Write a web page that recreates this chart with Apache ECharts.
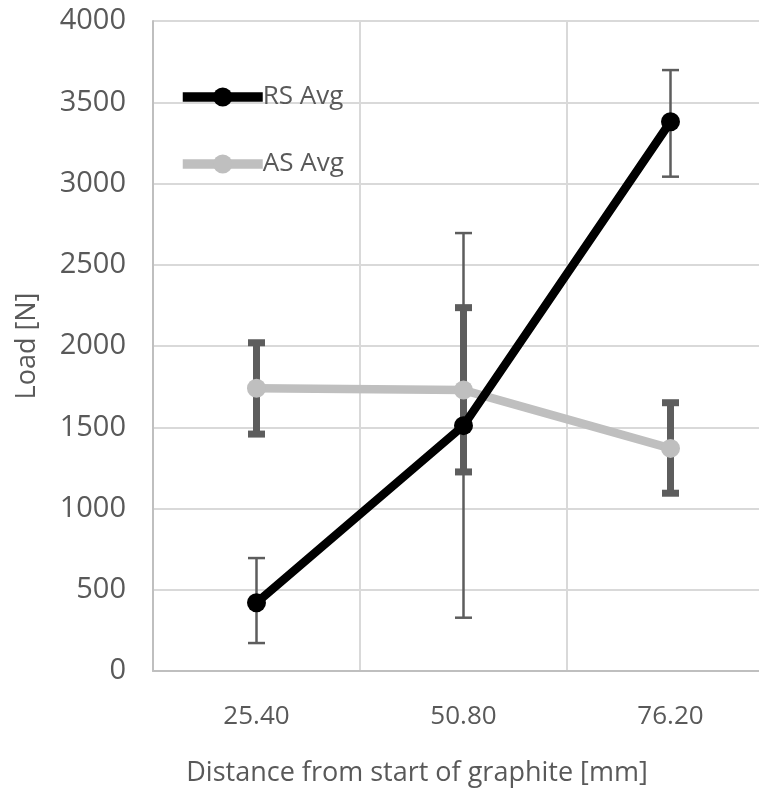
<!DOCTYPE html>
<html>
<head>
<meta charset="utf-8">
<script src="https://cdn.jsdelivr.net/npm/echarts@6/dist/echarts.min.js"></script>
<style>html,body{margin:0;padding:0;background:#fff;}#c{width:759px;height:788px;}</style>
</head>
<body>
<div id="c"></div>
<script>
const categories = ['25.40', '50.80', '76.20'];
const rsAvg  = [420, 1510, 3380];
const rsLow  = [172, 328, 3042];
const rsHigh = [695, 2695, 3698];
const asAvg  = [1740, 1729, 1370];
const asLow  = [1458, 1225, 1094];
const asHigh = [2020, 2236, 1651];
const yTicks = { min: 0, max: 4000, interval: 500 };

const FONT = 'Open Sans';
const TXT = '#595959';

function errData(lo, hi) { return lo.map((v, i) => [i, v, hi[i]]); }

function errRender(barW, capW) {
  return function (params, api) {
    const i = api.value(0);
    const lo = api.coord([i, api.value(1)]);
    const hi = api.coord([i, api.value(2)]);
    const x = lo[0];
    const st = { stroke: '#5d5d5d', lineWidth: barW };
    return {
      type: 'group',
      children: [
        { type: 'line', shape: { x1: x, y1: hi[1], x2: x, y2: lo[1] }, style: st },
        { type: 'line', shape: { x1: x - capW / 2, y1: hi[1], x2: x + capW / 2, y2: hi[1] }, style: st },
        { type: 'line', shape: { x1: x - capW / 2, y1: lo[1], x2: x + capW / 2, y2: lo[1] }, style: st }
      ]
    };
  };
}

const chart = echarts.init(document.getElementById('c'), null, { renderer: 'canvas' });
chart.setOption({
  animation: false,
  backgroundColor: '#fff',
  textStyle: { fontFamily: FONT, color: TXT },
  grid: { left: 153, top: 21, width: 621, height: 650, containLabel: false, outerBoundsMode: 'none' },
  legend: {
    data: ['RS Avg', 'AS Avg'],
    orient: 'vertical',
    left: 178, top: 84, padding: 0,
    itemWidth: 80, itemHeight: 24, itemGap: 41,
    lineStyle: { width: 9.5 },
    textStyle: { fontFamily: FONT, fontSize: 26, color: TXT, padding: [0, 0, 0, -5] }
  },
  xAxis: {
    type: 'category',
    data: categories,
    boundaryGap: true,
    name: 'Distance from start of graphite [mm]',
    nameLocation: 'middle',
    nameGap: 89,
    nameTextStyle: { fontFamily: FONT, fontSize: 27, color: TXT, padding: [0, 93, 0, 0] },
    axisLine: { show: true, lineStyle: { color: '#bfbfbf', width: 2 } },
    axisTick: { show: false },
    axisLabel: { fontFamily: FONT, fontSize: 26, color: TXT, margin: 33 },
    splitLine: { show: true, lineStyle: { color: '#d9d9d9', width: 2 } }
  },
  yAxis: {
    type: 'value',
    min: yTicks.min, max: yTicks.max, interval: yTicks.interval,
    name: 'Load [N]',
    nameLocation: 'middle',
    nameGap: 112,
    nameTextStyle: { fontFamily: FONT, fontSize: 27, color: TXT },
    axisLine: { show: true, lineStyle: { color: '#bfbfbf', width: 2 } },
    axisTick: { show: false },
    axisLabel: { fontFamily: FONT, fontSize: 29, color: TXT, margin: 27, formatter: v => String(v) },
    splitLine: { show: true, lineStyle: { color: '#d9d9d9', width: 2 } }
  },
  series: [
    {
      type: 'custom', name: 'RS err', z: 1, silent: true,
      renderItem: errRender(2.5, 17),
      data: errData(rsLow, rsHigh)
    },
    {
      type: 'custom', name: 'AS err', z: 1, silent: true,
      renderItem: errRender(7, 17),
      data: errData(asLow, asHigh)
    },
    {
      type: 'line', name: 'AS Avg', z: 3,
      data: asAvg,
      symbol: 'circle', symbolSize: 19,
      itemStyle: { color: '#bfbfbf' },
      lineStyle: { color: '#bfbfbf', width: 8.5 }
    },
    {
      type: 'line', name: 'RS Avg', z: 4,
      data: rsAvg,
      symbol: 'circle', symbolSize: 19,
      itemStyle: { color: '#000000' },
      lineStyle: { color: '#000000', width: 8.5 }
    }
  ]
});
</script>
</body>
</html>
